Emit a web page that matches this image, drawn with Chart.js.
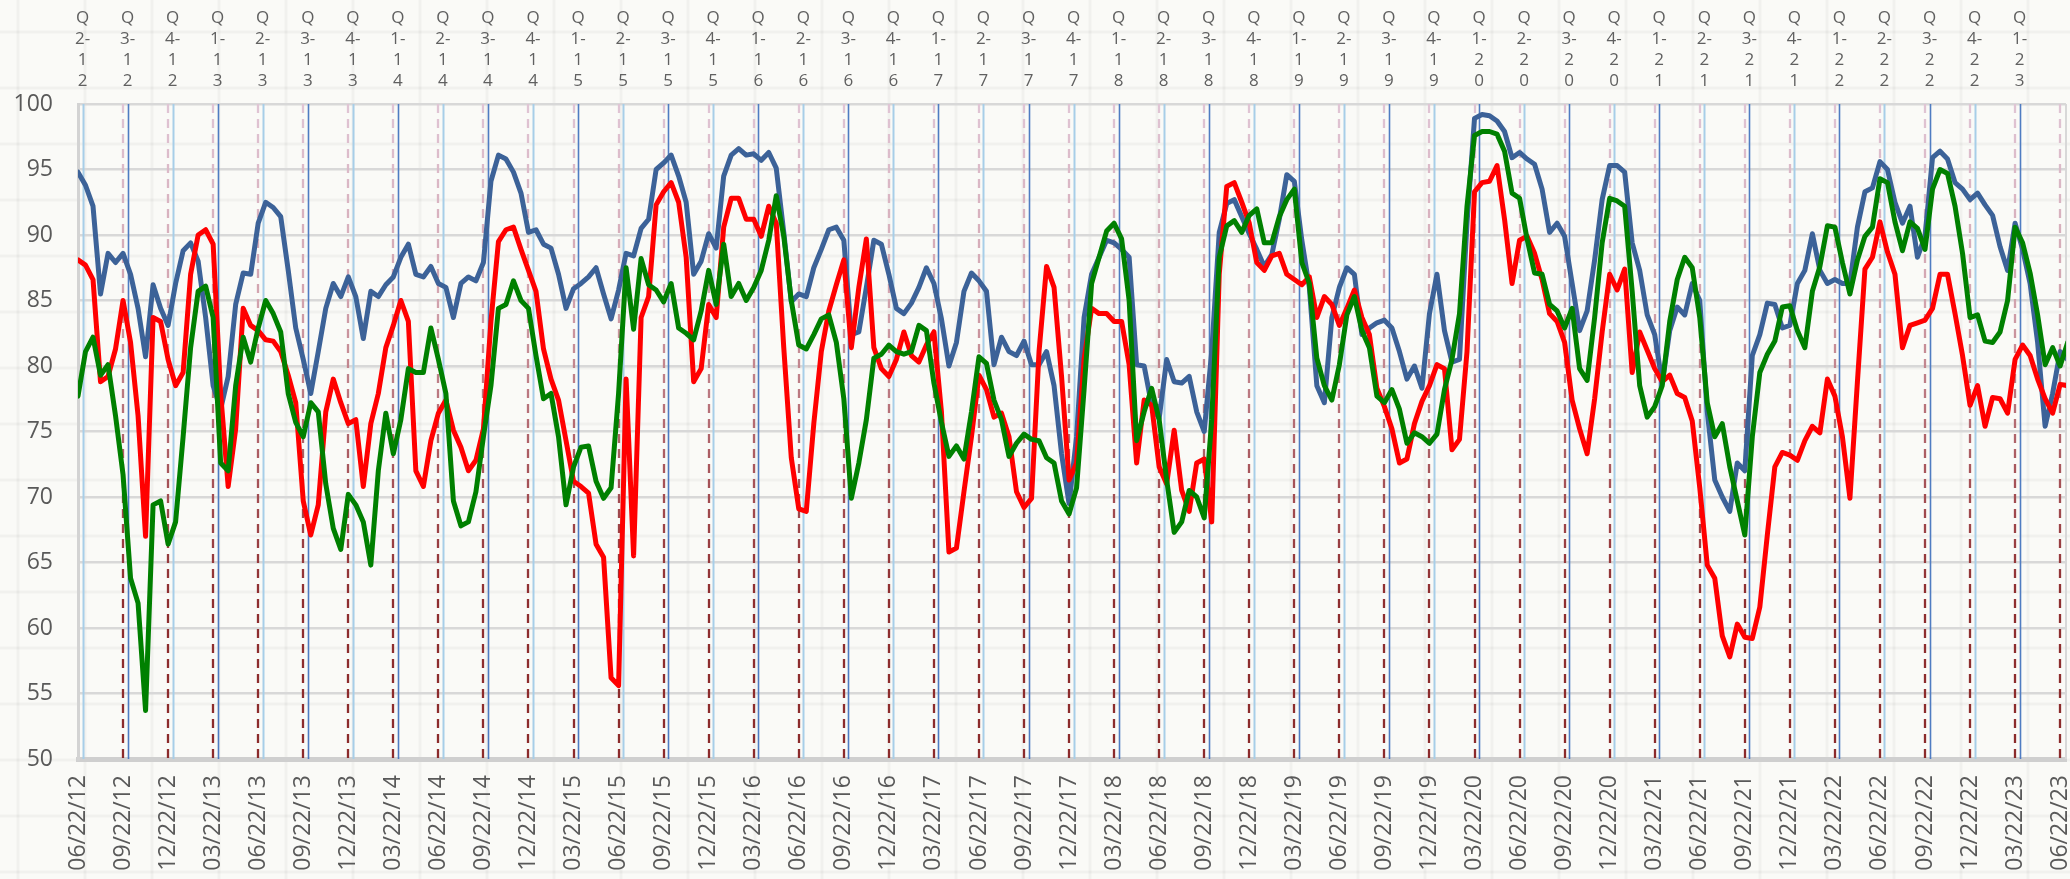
<!DOCTYPE html>
<html>
<head>
<meta charset="utf-8">
<script src="https://cdn.jsdelivr.net/npm/chart.js@4/dist/chart.umd.min.js"></script>
<style>
  html, body { margin: 0; padding: 0; background: #fafaf7; }
  #wrap { width: 2070px; height: 879px; }
</style>
</head>
<body>
<div id="wrap"><canvas id="chart" width="2070" height="879"></canvas></div>
<script>
// --- Daten: ein Wert alle ~2 Wochen (6 pro Quartal), ab 06/22/12 ---
const STEPS_PER_QUARTER = 6;
const QUARTER_END = 0.1; // Quartalslinien liegen kurz nach dem 22.

const dateLabels = [
  '06/22/12', '09/22/12', '12/22/12', '03/22/13', '06/22/13', '09/22/13', '12/22/13', '03/22/14', '06/22/14',
  '09/22/14', '12/22/14', '03/22/15', '06/22/15', '09/22/15', '12/22/15', '03/22/16', '06/22/16', '09/22/16',
  '12/22/16', '03/22/17', '06/22/17', '09/22/17', '12/22/17', '03/22/18', '06/22/18', '09/22/18', '12/22/18',
  '03/22/19', '06/22/19', '09/22/19', '12/22/19', '03/22/20', '06/22/20', '09/22/20', '12/22/20', '03/22/21',
  '06/22/21', '09/22/21', '12/22/21', '03/22/22', '06/22/22', '09/22/22', '12/22/22', '03/22/23', '06/22/23'
];

const quarterLabels = [
  'Q2-12', 'Q3-12', 'Q4-12', 'Q1-13', 'Q2-13', 'Q3-13', 'Q4-13', 'Q1-14', 'Q2-14', 'Q3-14', 'Q4-14',
  'Q1-15', 'Q2-15', 'Q3-15', 'Q4-15', 'Q1-16', 'Q2-16', 'Q3-16', 'Q4-16', 'Q1-17', 'Q2-17', 'Q3-17',
  'Q4-17', 'Q1-18', 'Q2-18', 'Q3-18', 'Q4-18', 'Q1-19', 'Q2-19', 'Q3-19', 'Q4-19', 'Q1-20', 'Q2-20',
  'Q3-20', 'Q4-20', 'Q1-21', 'Q2-21', 'Q3-21', 'Q4-21', 'Q1-22', 'Q2-22', 'Q3-22', 'Q4-22', 'Q1-23'
];

const yTicks = [50, 55, 60, 65, 70, 75, 80, 85, 90, 95, 100];

const blueSeries = [
  94.8, 93.8, 92.2, 85.5, 88.6, 87.9, 88.6, 87.0, 84.4, 80.7, 86.2, 84.4, 83.1, 86.3, 88.8, 89.4, 88.0, 83.7, 78.5, 76.7,
  79.2, 84.7, 87.1, 87.0, 90.9, 92.5, 92.1, 91.4, 87.3, 82.9, 80.5, 77.9, 81.1, 84.4, 86.3, 85.3, 86.8, 85.3, 82.1, 85.7,
  85.3, 86.2, 86.8, 88.3, 89.3, 87.0, 86.8, 87.6, 86.3, 86.0, 83.7, 86.3, 86.8, 86.5, 87.9, 94.1, 96.1, 95.8, 94.8, 93.2,
  90.2, 90.4, 89.3, 89.0, 87.0, 84.4, 85.9,
  86.3, 86.8, 87.5, 85.5, 83.6, 85.8, 88.6, 88.4, 90.5, 91.2, 95.0, 95.5, 96.1, 94.5, 92.5, 87.0, 88.0, 90.1, 89.0, 94.5,
  96.1, 96.6, 96.1, 96.2, 95.7, 96.3, 95.1, 90.2, 84.9, 85.5, 85.3, 87.5, 88.9, 90.4, 90.6, 89.6, 82.4, 82.6, 86.0, 89.6,
  89.3, 87.0, 84.4, 84.0, 84.8, 86.0, 87.5, 86.3, 83.6, 80.0, 81.8, 85.7, 87.1, 86.5, 85.7, 80.1, 82.2, 81.1, 80.8, 81.9,
  80.1, 80.1, 81.1, 78.5, 73.3, 69.5,
  74.6, 83.7, 87.0, 88.3, 89.6, 89.4, 88.9, 88.3, 80.1, 80.0, 77.0, 76.0, 80.5, 78.8, 78.7, 79.2, 76.5, 75.0, 81.1, 90.2,
  92.4, 92.7, 91.4, 90.1, 88.9, 87.6, 88.5, 91.2, 94.6, 94.1, 89.6, 86.0, 78.5, 77.2, 83.7, 86.0, 87.5, 87.0, 82.4, 82.9,
  83.3, 83.5, 82.9, 81.1, 79.0, 80.0, 78.3, 84.0, 87.0, 82.7, 80.3, 80.5, 90.9, 98.9, 99.2, 99.1, 98.7, 97.9, 95.9, 96.3,
  95.8, 95.4, 93.5, 90.2, 90.9, 89.9,
  86.3, 82.7, 84.2, 88.1, 92.7, 95.3, 95.3, 94.8, 89.4, 87.3, 83.9, 82.4, 78.7, 82.7, 84.5, 83.9, 86.3, 85.0, 76.5, 71.3,
  70.0, 68.9, 72.6, 72.0, 80.8, 82.4, 84.8, 84.7, 82.9, 83.1, 86.3, 87.3, 90.1, 87.3, 86.3, 86.6, 86.3, 86.3, 90.6, 93.3,
  93.6, 95.6, 95.0, 92.5, 90.9, 92.2, 88.3, 89.9, 95.9, 96.4, 95.8, 94.0, 93.5, 92.7, 93.2, 92.3, 91.5, 89.1, 87.3, 90.9,
  88.9, 86.3, 81.8, 75.4, 77.9, 81.1, 80.5
];

const redSeries = [
  88.1, 87.7, 86.6, 78.8, 79.2, 81.3, 85.0, 81.8, 76.2, 67.0, 83.7, 83.4, 80.5, 78.5, 79.5, 87.0, 90.0, 90.4, 89.3, 77.9,
  70.8, 75.2, 84.4, 83.1, 82.7, 82.0, 81.9, 81.1, 79.3, 77.2, 69.7, 67.1, 69.4, 76.5, 79.0, 77.2, 75.6, 75.9, 70.8, 75.6,
  77.9, 81.4, 83.1, 85.0, 83.4, 72.0, 70.8, 74.3, 76.4, 77.4, 75.1, 73.8, 72.0, 72.8, 75.2, 83.4, 89.5, 90.4, 90.6, 88.9,
  87.3, 85.7, 81.3, 79.0, 77.4, 74.3, 71.2,
  70.8, 70.3, 66.4, 65.4, 56.2, 55.6, 79.0, 65.5, 83.7, 85.3, 92.3, 93.3, 94.0, 92.5, 88.3, 78.8, 79.8, 84.7, 83.7, 90.6,
  92.8, 92.8, 91.2, 91.2, 89.9, 92.2, 90.9, 81.4, 73.0, 69.1, 68.9, 75.6, 81.1, 84.2, 86.2, 88.1, 81.4, 86.0, 89.7, 81.4,
  79.8, 79.2, 80.5, 82.6, 80.8, 80.3, 81.6, 82.6, 76.5, 65.8, 66.1, 70.4, 74.6, 79.3, 78.2, 76.1, 76.4, 74.6, 70.4, 69.2,
  69.9, 81.1, 87.6, 86.0, 79.2, 71.3,
  72.6, 80.5, 84.4, 84.0, 84.0, 83.4, 83.4, 80.1, 72.6, 77.4, 77.0, 72.3, 71.0, 75.1, 70.5, 68.9, 72.6, 72.9, 68.1, 87.0,
  93.7, 94.0, 92.5, 90.9, 87.9, 87.3, 88.4, 88.6, 87.0, 86.6, 86.2, 86.8, 83.7, 85.3, 84.7, 83.1, 84.4, 85.8, 83.7, 82.4,
  78.3, 76.9, 75.2, 72.6, 72.9, 75.6, 77.3, 78.5, 80.1, 79.8, 73.6, 74.4, 81.1, 93.3, 94.0, 94.1, 95.3, 91.2, 86.3, 89.6,
  89.9, 88.6, 86.6, 84.0, 83.4, 81.8,
  77.4, 75.2, 73.3, 77.5, 82.6, 87.0, 85.8, 87.4, 79.5, 82.6, 81.2, 79.8, 78.8, 79.3, 77.9, 77.6, 75.8, 70.7, 64.8, 63.8,
  59.4, 57.8, 60.3, 59.3, 59.2, 61.6, 67.1, 72.3, 73.4, 73.2, 72.8, 74.3, 75.4, 74.9, 79.0, 77.7, 74.6, 69.9, 78.8, 87.4,
  88.3, 91.0, 88.7, 87.0, 81.4, 83.1, 83.3, 83.5, 84.4, 87.0, 87.0, 84.0, 80.8, 77.0, 78.5, 75.4, 77.6, 77.5, 76.4, 80.5,
  81.6, 80.8, 79.0, 77.5, 76.4, 78.6, 78.5
];

const greenSeries = [
  77.7, 81.1, 82.2, 79.3, 80.1, 76.2, 71.7, 63.8, 61.9, 53.7, 69.4, 69.7, 66.4, 68.1, 74.6, 81.4, 85.7, 86.1, 83.7, 72.6,
  72.0, 78.5, 82.2, 80.3, 82.9, 85.0, 84.0, 82.6, 77.9, 75.7, 74.6, 77.2, 76.5, 71.0, 67.6, 66.0, 70.2, 69.4, 68.1, 64.8,
  72.0, 76.4, 73.3, 75.9, 79.8, 79.5, 79.5, 82.9, 80.5, 77.9, 69.7, 67.8, 68.1, 70.4, 74.6, 78.5, 84.4, 84.7, 86.5, 85.0,
  84.4, 80.8, 77.5, 77.9, 74.6, 69.4, 72.3,
  73.8, 73.9, 71.2, 69.9, 70.7, 77.9, 87.5, 82.8, 88.2, 86.2, 85.8, 84.9, 86.3, 82.9, 82.5, 82.0, 84.2, 87.3, 84.7, 89.3,
  85.3, 86.3, 85.0, 86.0, 87.3, 89.6, 93.0, 89.9, 85.0, 81.6, 81.3, 82.4, 83.6, 83.9, 81.8, 77.5, 69.9, 72.6, 75.9, 80.6,
  80.9, 81.6, 81.1, 80.9, 81.1, 83.1, 82.7, 78.7, 75.7, 73.1, 73.9, 72.9, 76.5, 80.7, 80.2, 77.4, 75.9, 73.1, 74.1, 74.8,
  74.4, 74.3, 73.0, 72.6, 69.7, 68.7,
  70.7, 78.2, 86.3, 88.3, 90.3, 90.9, 89.7, 85.0, 74.3, 76.5, 78.3, 75.9, 71.3, 67.3, 68.1, 70.5, 70.0, 68.4, 75.9, 88.3,
  90.7, 91.1, 90.2, 91.5, 92.0, 89.4, 89.4, 91.4, 92.7, 93.5, 87.9, 86.3, 80.6, 78.5, 77.4, 80.1, 83.9, 85.3, 82.7, 81.4,
  77.7, 77.2, 78.2, 76.7, 74.1, 74.9, 74.6, 74.1, 74.8, 78.2, 80.5, 84.0, 92.2, 97.6, 97.9, 97.9, 97.7, 96.4, 93.2, 92.8,
  89.7, 87.1, 87.0, 84.7, 84.2, 82.9,
  84.4, 79.8, 78.9, 83.7, 89.4, 92.8, 92.6, 92.2, 85.7, 78.5, 76.1, 76.9, 78.5, 83.4, 86.6, 88.3, 87.5, 83.7, 77.2, 74.6,
  75.6, 72.3, 69.7, 67.1, 74.6, 79.5, 80.9, 81.9, 84.5, 84.6, 82.7, 81.4, 85.7, 87.6, 90.7, 90.6, 87.9, 85.5, 88.1, 89.9,
  90.6, 94.3, 94.0, 91.0, 88.8, 91.0, 90.5, 88.9, 93.5, 95.0, 94.7, 92.2, 88.6, 83.7, 83.9, 81.9, 81.8, 82.6, 85.0, 90.6,
  89.4, 87.1, 83.9, 80.1, 81.4, 80.0, 81.8
];

// x-Position in Quartalen (0 = 06/22/12)
const xPositions = blueSeries.map((_, i) => i / STEPS_PER_QUARTER);

const TEXT_GRAY = '#595959';

// --- Hintergrund wie Tabellenblatt ---
const sheetBackground = {
    id: 'sheetBackground',
    beforeDraw(chart) {
        const { ctx, width, height } = chart;
        ctx.save();
        ctx.fillStyle = '#fafaf7';
        ctx.fillRect(0, 0, width, height);
        ctx.strokeStyle = 'rgba(0, 0, 0, 0.035)';
        ctx.lineWidth = 3;
        for (let y = 32; y < height; y += 56) {
            ctx.beginPath(); ctx.moveTo(0, y); ctx.lineTo(width, y); ctx.stroke();
        }
        for (let x = 18; x < width; x += 67) {
            ctx.beginPath(); ctx.moveTo(x, 0); ctx.lineTo(x, height); ctx.stroke();
        }
        ctx.restore();
    }
};

// --- Senkrechte Linien: Datum (gestrichelt) und Quartale (blau) ---
const verticalLines = {
    id: 'verticalLines',
    beforeDatasetsDraw(chart) {
        const { ctx, chartArea: { top, bottom, left, right }, scales: { x } } = chart;
        ctx.save();
        ctx.beginPath();
        ctx.rect(left, top, right - left, bottom - top);
        ctx.clip();

        const grad = ctx.createLinearGradient(0, top, 0, bottom);
        grad.addColorStop(0, '#e0c5d5');
        grad.addColorStop(0.3, '#d2a3ae');
        grad.addColorStop(0.55, '#a9585e');
        grad.addColorStop(0.75, '#8e2e30');
        grad.addColorStop(1, '#8b2b2b');
        ctx.strokeStyle = grad;
        ctx.lineWidth = 2.3;
        ctx.setLineDash([9, 6]);
        dateLabels.forEach((_, i) => {
            if (i === 0) return;
            const px = Math.round(x.getPixelForValue(i));
            ctx.beginPath(); ctx.moveTo(px, top); ctx.lineTo(px, bottom); ctx.stroke();
        });

        ctx.setLineDash([]);
        quarterLabels.forEach((_, i) => {
            const px = Math.round(x.getPixelForValue(i + QUARTER_END)) + 0.5;
            const odd = i % 2 === 1; // Q1 / Q3 dunkler
            ctx.strokeStyle = odd ? '#4f7cc2' : '#a7cee8';
            ctx.lineWidth = odd ? 1.6 : 2;
            ctx.beginPath(); ctx.moveTo(px, top); ctx.lineTo(px, bottom); ctx.stroke();
        });

        ctx.restore();
        // rechter Rahmen
        ctx.save();
        ctx.strokeStyle = '#d8d8d8';
        ctx.lineWidth = 2;
        ctx.beginPath(); ctx.moveTo(right, top); ctx.lineTo(right, bottom); ctx.stroke();
        ctx.restore();
    }
};

const lineDefaults = { pointRadius: 0, borderWidth: 5, tension: 0, fill: false, borderJoinStyle: 'round', borderCapStyle: 'round' };

new Chart(document.getElementById('chart').getContext('2d'), {
    type: 'line',
    data: {
        labels: xPositions,
        datasets: [
            { ...lineDefaults, label: 'blau', data: blueSeries, borderColor: '#3c6298', order: 3 },
            { ...lineDefaults, label: 'rot', data: redSeries, borderColor: '#ff0000', order: 2 },
            { ...lineDefaults, label: 'grün', data: greenSeries, borderColor: '#008000', order: 1 }
        ]
    },
    options: {
        responsive: false,
        animation: false,
        devicePixelRatio: 1,
        layout: { padding: { left: 0, right: 4, top: 0, bottom: 0 } },
        plugins: { legend: { display: false }, tooltip: { enabled: false } },
        scales: {
            x: {
                type: 'linear',
                position: 'bottom',
                min: 0,
                max: 44.13,
                afterBuildTicks: (scale) => { scale.ticks = dateLabels.map((_, i) => ({ value: i })); },
                afterFit: (scale) => { scale.height = 120; scale.paddingLeft = 0; scale.paddingRight = 0; },
                ticks: {
                    autoSkip: false,
                    minRotation: 90,
                    maxRotation: 90,
                    padding: 16,
                    color: TEXT_GRAY,
                    font: { family: 'Open Sans', size: 23 },
                    callback: (v, i) => dateLabels[i]
                },
                grid: { display: false, drawTicks: false },
                border: { display: true, color: '#cfcfcf', width: 5 }
            },
            xTop: {
                type: 'linear',
                position: 'top',
                min: 0,
                max: 44.13,
                afterBuildTicks: (scale) => { scale.ticks = quarterLabels.map((_, i) => ({ value: i + QUARTER_END })); },
                afterFit: (scale) => { scale.height = 104; scale.paddingLeft = 0; scale.paddingRight = 0; },
                ticks: {
                    autoSkip: false,
                    maxRotation: 0,
                    minRotation: 0,
                    padding: 12,
                    color: '#606060',
                    font: { family: 'Open Sans', size: 17, lineHeight: 1.24 },
                    callback: (v, i) => {
                        const q = quarterLabels[i];
                        return ['Q', q[1] + '-', q[3], q[4]];
                    }
                },
                grid: { display: false, drawTicks: false },
                border: { display: false }
            },
            y: {
                min: yTicks[0],
                max: yTicks[yTicks.length - 1],
                afterBuildTicks: (scale) => { scale.ticks = yTicks.map(v => ({ value: v })); },
                afterFit: (scale) => { scale.width = 78; },
                ticks: {
                    padding: 25,
                    color: TEXT_GRAY,
                    font: { family: 'Open Sans', size: 23 }
                },
                grid: { color: '#d8d8d8', lineWidth: 2.5, drawTicks: false },
                border: { display: true, color: '#d3d3d3', width: 3 }
            }
        }
    },
    plugins: [sheetBackground, verticalLines]
});
</script>
</body>
</html>
